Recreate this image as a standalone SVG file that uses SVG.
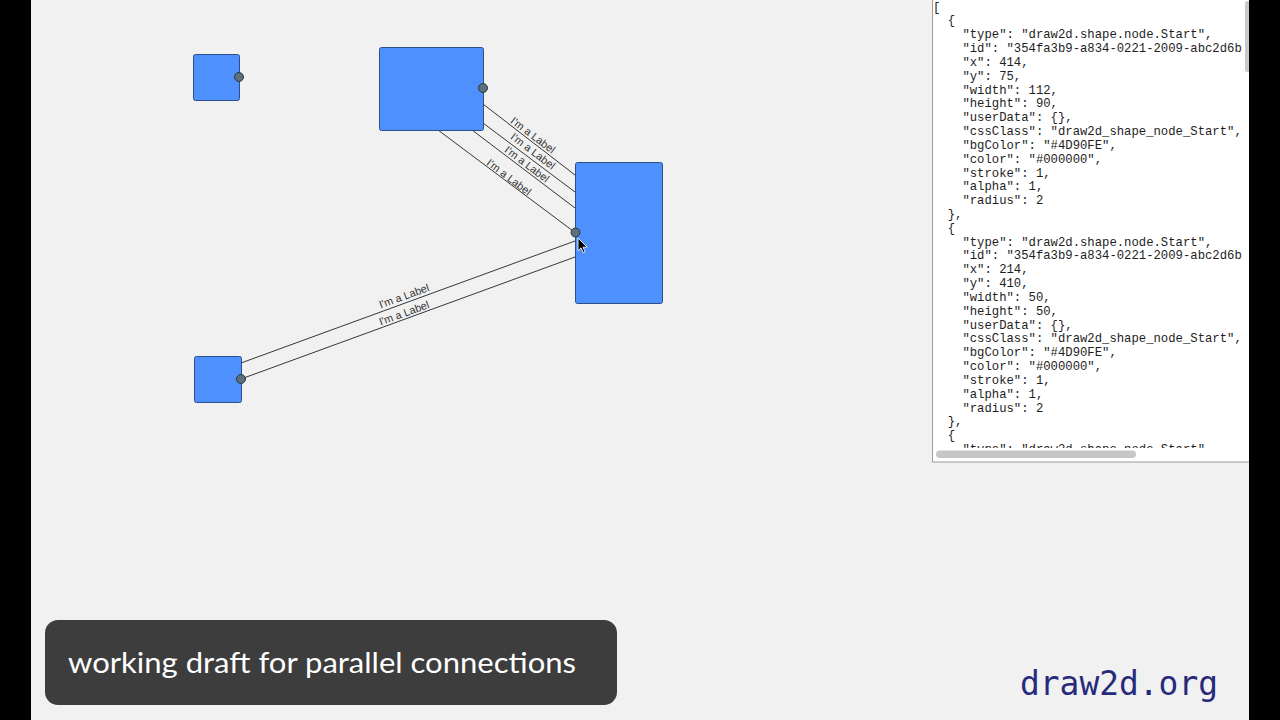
<svg xmlns="http://www.w3.org/2000/svg" width="1280" height="720" viewBox="0 0 1280 720">
  <defs>
    <style>
      .node { fill: #4D90FE; stroke: #2b4f86; stroke-width: 1; }
      .port { fill: #5c707c; stroke: #2a3740; stroke-width: 1; }
      .conn { stroke: #363636; stroke-width: 1; fill: none; }
      .lbl { font-family: "Liberation Sans", Arial, sans-serif; font-size: 10.8px; fill: #333333; text-anchor: middle; }
      .json { font-family: "Liberation Mono", "DejaVu Sans Mono", monospace; font-size: 12.25px; fill: #1e1e1e; }
      .bar { fill: #000000; }
    </style>
    <clipPath id="jsonClip">
      <rect x="932" y="0" width="311" height="448"/>
    </clipPath>
  </defs>

  <!-- background -->
  <rect x="0" y="0" width="1280" height="720" fill="#f1f1f1"/>

  <!-- connectors -->
  <g id="connectors">
    <line class="conn" x1="483" y1="104" x2="575" y2="175"/>
    <line class="conn" x1="483" y1="123" x2="575" y2="192"/>
    <line class="conn" x1="472" y1="130" x2="575" y2="208"/>
    <line class="conn" x1="438" y1="130" x2="575" y2="232.5"/>
    <line class="conn" x1="241" y1="363" x2="575" y2="241"/>
    <line class="conn" x1="241" y1="379" x2="575" y2="257"/>
  </g>

  <g id="labels">
    <text class="lbl" transform="translate(533,135) rotate(37.2)" x="0" y="3.8">I'm a Label</text>
    <text class="lbl" transform="translate(533,151) rotate(37.2)" x="0" y="3.8">I'm a Label</text>
    <text class="lbl" transform="translate(527,164) rotate(37.2)" x="0" y="3.8">I'm a Label</text>
    <text class="lbl" transform="translate(509,177) rotate(37.2)" x="0" y="3.8">I'm a Label</text>
    <text class="lbl" transform="translate(404,296) rotate(-20.1)" x="0" y="3.8">I'm a Label</text>
    <text class="lbl" transform="translate(404,313) rotate(-20.1)" x="0" y="3.8">I'm a Label</text>
  </g>

  <!-- nodes -->
  <g id="nodeA">
    <rect class="node" x="193.5" y="54.5" width="46" height="46" rx="2"/>
    <circle class="port" cx="239" cy="77" r="4.5"/>
  </g>
  <g id="nodeB">
    <rect class="node" x="379.5" y="47.5" width="104" height="83" rx="2"/>
    <circle class="port" cx="483" cy="88" r="4.5"/>
  </g>
  <g id="nodeC">
    <rect class="node" x="575.5" y="162.5" width="87" height="141" rx="2"/>
    <circle class="port" cx="575.5" cy="232.5" r="4.5"/>
  </g>
  <g id="nodeD">
    <rect class="node" x="194.5" y="356.5" width="47" height="46" rx="2"/>
    <circle class="port" cx="241" cy="379" r="4.5"/>
  </g>

  <!-- mouse cursor -->
  <g id="cursor" transform="translate(578,238) scale(0.85)">
    <path d="M0,0 L0,15 L3.6,11.6 L6.2,17.3 L8.4,16.3 L5.9,10.8 L10.8,10.8 Z" fill="#000000" stroke="#ffffff" stroke-width="1" stroke-linejoin="round"/>
  </g>

  <!-- JSON panel -->
  <g id="jsonPanel">
    <rect x="932.5" y="-1" width="330" height="463" fill="#ffffff" stroke="#9c9c9c" stroke-width="1"/>
    <rect x="1245" y="1" width="5" height="71" rx="2.5" fill="#c9c9c9"/>
    <rect x="936" y="450.5" width="200" height="7.5" rx="3.75" fill="#c6c6c6"/>
    <g clip-path="url(#jsonClip)" class="json">
      <text x="933" y="10.5">[</text>
      <text x="947.7" y="24.3">{</text>
      <text x="962.4" y="38.2">"type": "draw2d.shape.node.Start",</text>
      <text x="962.4" y="52.0">"id": "354fa3b9-a834-0221-2009-abc2d6b</text>
      <text x="962.4" y="65.8">"x": 414,</text>
      <text x="962.4" y="79.7">"y": 75,</text>
      <text x="962.4" y="93.5">"width": 112,</text>
      <text x="962.4" y="107.3">"height": 90,</text>
      <text x="962.4" y="121.1">"userData": {},</text>
      <text x="962.4" y="135.0">"cssClass": "draw2d_shape_node_Start",</text>
      <text x="962.4" y="148.8">"bgColor": "#4D90FE",</text>
      <text x="962.4" y="162.6">"color": "#000000",</text>
      <text x="962.4" y="176.5">"stroke": 1,</text>
      <text x="962.4" y="190.3">"alpha": 1,</text>
      <text x="962.4" y="204.1">"radius": 2</text>
      <text x="947.7" y="218.0">},</text>
      <text x="947.7" y="231.8">{</text>
      <text x="962.4" y="245.6">"type": "draw2d.shape.node.Start",</text>
      <text x="962.4" y="259.4">"id": "354fa3b9-a834-0221-2009-abc2d6b</text>
      <text x="962.4" y="273.3">"x": 214,</text>
      <text x="962.4" y="287.1">"y": 410,</text>
      <text x="962.4" y="300.9">"width": 50,</text>
      <text x="962.4" y="314.8">"height": 50,</text>
      <text x="962.4" y="328.6">"userData": {},</text>
      <text x="962.4" y="342.4">"cssClass": "draw2d_shape_node_Start",</text>
      <text x="962.4" y="356.3">"bgColor": "#4D90FE",</text>
      <text x="962.4" y="370.1">"color": "#000000",</text>
      <text x="962.4" y="383.9">"stroke": 1,</text>
      <text x="962.4" y="397.7">"alpha": 1,</text>
      <text x="962.4" y="411.6">"radius": 2</text>
      <text x="947.7" y="425.4">},</text>
      <text x="947.7" y="439.2">{</text>
      <text x="962.4" y="453.1">"type": "draw2d.shape.node.Start",</text>
    </g>
  </g>

  <!-- caption -->
  <g id="caption">
    <rect x="45" y="620" width="572" height="85" rx="13" fill="#3d3d3d"/>
    <text x="68" y="673" font-family="Lato, 'Open Sans', sans-serif" font-size="29" fill="#ffffff" textLength="508" lengthAdjust="spacingAndGlyphs">working draft for parallel connections</text>
  </g>

  <text x="1020" y="695" font-family="'DejaVu Sans Mono', 'Liberation Mono', monospace" font-size="33" fill="#272a7c" textLength="198" lengthAdjust="spacingAndGlyphs">draw2d.org</text>

  <!-- letterbox bars -->
  <rect class="bar" x="0" y="0" width="31" height="720"/>
  <rect class="bar" x="1249" y="0" width="31" height="720"/>
</svg>
